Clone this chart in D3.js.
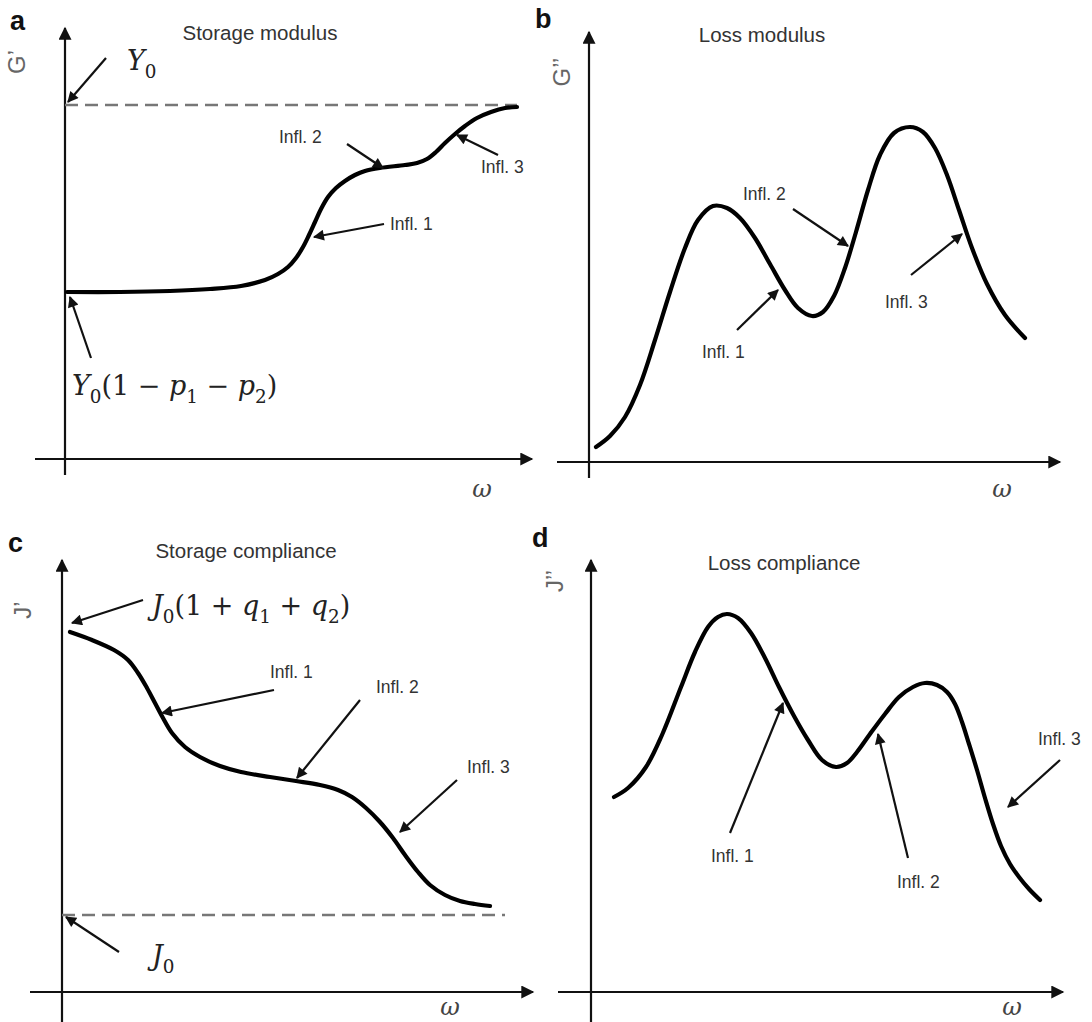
<!DOCTYPE html>
<html><head><meta charset="utf-8">
<script src="https://cdn.jsdelivr.net/npm/d3@7"></script>
<style>body{margin:0;background:#fff}</style>
</head><body><svg id="chart" width="1092" height="1022"></svg>
<script>
// ---------- data (abstract units: omega along x, modulus/compliance along y) ----------
const panelLetters = ["a", "b", "c", "d"];
const panelTitles = ["Storage modulus", "Loss modulus", "Storage compliance", "Loss compliance"];
const yAxisLabels = ["G\u2019", "G\u2019\u2019", "J\u2019", "J\u2019\u2019"];
const xAxisLabel = "\u03c9";

const omegaA = [2,55,105,145,176,200,213,223,231,238,244,250,256,263,271,280,290,300,315,340,352,362,371,380,390,400,412,426,440,452];
const storageModulus = [167,167,168,170,173,179,185,192,201,212,224,237,250,262,271,278,284,288,291,294,296,300,307,316,325,333,341,347,351,352];
const Y0 = 354;

const omegaB = [7,21,36,51,66,81,96,109,124,138,151,166,181,196,209,223,234,245,256,267,279,291,305,321,334,346,358,370,383,398,416,436];
const lossModulus = [15,26,45,77,122,170,214,242,256,254,244,224,198,172,154,146,150,166,194,230,272,307,329,335,330,314,287,252,214,178,147,124];

const omegaC = [8,30,52,66,76,85,93,101,110,123,138,158,179,208,234,258,276,290,304,318,331,343,356,368,383,398,413,428];
const storageCompliance = [360,352,342,332,319,304,289,274,259,245,235,226,220,215,211,207,202,195,184,170,154,137,120,107,97,91,88,86];
const J0 = 77;

const omegaD = [23,37,55,71,90,104,117,127,136,147,160,174,188,203,217,231,245,256,266,279,294,308,322,334,346,356,364,371,378,386,394,402,410,419,428,438,449];
const lossCompliance = [195,204,225,257,305,340,365,375,378,374,359,334,305,276,252,232,225,229,240,258,278,295,305,309,307,300,288,270,248,222,194,168,146,128,115,103,92];

// inflection annotations: [label, text x, text y, arrow tail x, tail y, arrow tip x, tip y] in data units
const inflA = [["Infl. 1",325,229,319,235,249,222],["Infl. 2",214,316,282,315,318,291],["Infl. 3",416,286,433,304,392,324]];
const inflB = [["Infl. 1",113,104,148,132,189,172],["Infl. 2",154,262,204,253,259,216],["Infl. 3",296,154,322,187,373,228]];
const inflC = [["Infl. 1",208,314,212,302,100,279],["Infl. 2",314,299,298,292,235,214],["Infl. 3",405,219,395,212,338,160]];
const inflD = [["Infl. 1",120,130,139,159,192,289],["Infl. 2",306,104,317,134,287,258],["Infl. 3",447,247,469,232,417,185]];

// ---------- layout ----------
const layout = [
  {ox:65,  oy:459, xr:[-30,467], yr:[-16,431], title:[195,419], letter:[-55,429], ylab:[-40,397], omega:[417,-38]},
  {ox:589, oy:462, xr:[-32,471], yr:[-16,430], title:[173,420], letter:[-54,434], ylab:[-19,390], omega:[413,-35]},
  {ox:62,  oy:992, xr:[-32,471], yr:[-30,432], title:[184,434], letter:[-54,440], ylab:[-31,382], omega:[388,-23]},
  {ox:591, oy:992, xr:[-33,472], yr:[-30,432], title:[193,422], letter:[-59,445], ylab:[-28,411], omega:[421,-23]}
];
const curves = [[omegaA, storageModulus],[omegaB, lossModulus],[omegaC, storageCompliance],[omegaD, lossCompliance]];
const infls = [inflA, inflB, inflC, inflD];

const svg = d3.select("#chart");
svg.append("rect").attr("width",1092).attr("height",1022).attr("fill","#fff");
const defs = svg.append("defs");
function marker(id, w, h){
  defs.append("marker").attr("id",id).attr("viewBox","0 0 10 10").attr("refX",9).attr("refY",5)
    .attr("markerUnits","userSpaceOnUse").attr("markerWidth",w).attr("markerHeight",h).attr("orient","auto")
    .append("path").attr("d","M0,0L10,5L0,10Z").attr("fill","#111");
}
marker("axArrow",17,13);
marker("annArrow",14,11);

const SANS = "'Liberation Sans', Arial, sans-serif";
const SERIF = "'DejaVu Serif', serif";

function mathText(g, x, y, parts, size){
  const t = g.append("text").attr("x",x).attr("y",y).attr("font-family",SERIF).attr("font-size",size).attr("fill","#222");
  let sub = false;
  parts.forEach(([s, st]) => {
    const ts = t.append("tspan").text(s);
    if (st === "i") ts.attr("font-style","italic");
    if (st === "s") { ts.attr("font-size",size*0.68).attr("dy",size*0.28); sub = true; }
    else if (sub) { ts.attr("dy",-size*0.28); sub = false; }
  });
}

layout.forEach((L, i) => {
  const x = d3.scaleLinear().domain([0,450]).range([L.ox, L.ox+450]);
  const y = d3.scaleLinear().domain([0,400]).range([L.oy, L.oy-400]);
  const g = svg.append("g");

  // axes
  g.append("line").attr("x1",x(L.xr[0])).attr("x2",x(L.xr[1])).attr("y1",y(0)).attr("y2",y(0))
    .attr("stroke","#111").attr("stroke-width",2.2).attr("marker-end","url(#axArrow)");
  g.append("line").attr("x1",x(0)).attr("x2",x(0)).attr("y1",y(L.yr[0])).attr("y2",y(L.yr[1]))
    .attr("stroke","#111").attr("stroke-width",2.2).attr("marker-end","url(#axArrow)");

  // panel letter, title, axis labels
  g.append("text").attr("x",x(L.letter[0])).attr("y",y(L.letter[1])).text(panelLetters[i])
    .attr("font-family",SANS).attr("font-weight","bold").attr("font-size",27).attr("fill","#111");
  g.append("text").attr("x",x(L.title[0])).attr("y",y(L.title[1])).text(panelTitles[i])
    .attr("text-anchor","middle").attr("font-family",SANS).attr("font-size",20.5).attr("fill","#333");
  g.append("text").attr("transform",`translate(${x(L.ylab[0])},${y(L.ylab[1])}) rotate(-90)`)
    .text(yAxisLabels[i]).attr("text-anchor","middle").attr("font-family",SANS).attr("font-size",24).attr("fill","#666");
  g.append("text").attr("x",x(L.omega[0])).attr("y",y(L.omega[1])).text(xAxisLabel)
    .attr("text-anchor","middle").attr("font-family",SERIF).attr("font-style","italic").attr("font-size",24).attr("fill","#444");

  // reference dashed lines
  if (i === 0) g.append("line").attr("x1",x(0)).attr("x2",x(452)).attr("y1",y(Y0)).attr("y2",y(Y0))
    .attr("stroke","#777").attr("stroke-width",2.5).attr("stroke-dasharray","13,7");
  if (i === 2) g.append("line").attr("x1",x(0)).attr("x2",x(443)).attr("y1",y(J0)).attr("y2",y(J0))
    .attr("stroke","#777").attr("stroke-width",2.5).attr("stroke-dasharray","13,7");

  // curve
  const [xs, ys] = curves[i];
  const pts = xs.map((v,k)=>[v, ys[k]]);
  g.append("path").attr("d", d3.line().x(d=>x(d[0])).y(d=>y(d[1])).curve(d3.curveCatmullRom.alpha(0.5))(pts))
    .attr("fill","none").attr("stroke","#000").attr("stroke-width",4.2).attr("stroke-linecap","round");

  // inflection annotations
  infls[i].forEach(a => {
    g.append("text").attr("x",x(a[1])).attr("y",y(a[2])).text(a[0])
      .attr("font-family",SANS).attr("font-size",17.5).attr("fill","#333");
    g.append("line").attr("x1",x(a[3])).attr("y1",y(a[4])).attr("x2",x(a[5])).attr("y2",y(a[6]))
      .attr("stroke","#111").attr("stroke-width",2.2).attr("marker-end","url(#annArrow)");
  });

  // level annotations
  const ann = (tx,ty,hx,hy,tipx,tipy,parts) => {
    mathText(g, x(tx), y(ty), parts, 27);
    g.append("line").attr("x1",x(hx)).attr("y1",y(hy)).attr("x2",x(tipx)).attr("y2",y(tipy))
      .attr("stroke","#111").attr("stroke-width",2.2).attr("marker-end","url(#annArrow)");
  };
  if (i === 0) {
    ann(62,389,41,401,3,357,[["Y","i"],["0","s"]]);
    ann(7,64,26,101,5,162,[["Y","i"],["0","s"],["(1 \u2212 ","n"],["p","i"],["1","s"],[" \u2212 ","n"],["p","i"],["2","s"],[")","n"]]);
  }
  if (i === 2) {
    ann(90,377,81,392,10,369,[["J","i"],["0","s"],["(1 + ","n"],["q","i"],["1","s"],[" + ","n"],["q","i"],["2","s"],[")","n"]]);
    ann(90,27,57,40,4,75,[["J","i"],["0","s"]]);
  }
});
</script>
</body></html>
